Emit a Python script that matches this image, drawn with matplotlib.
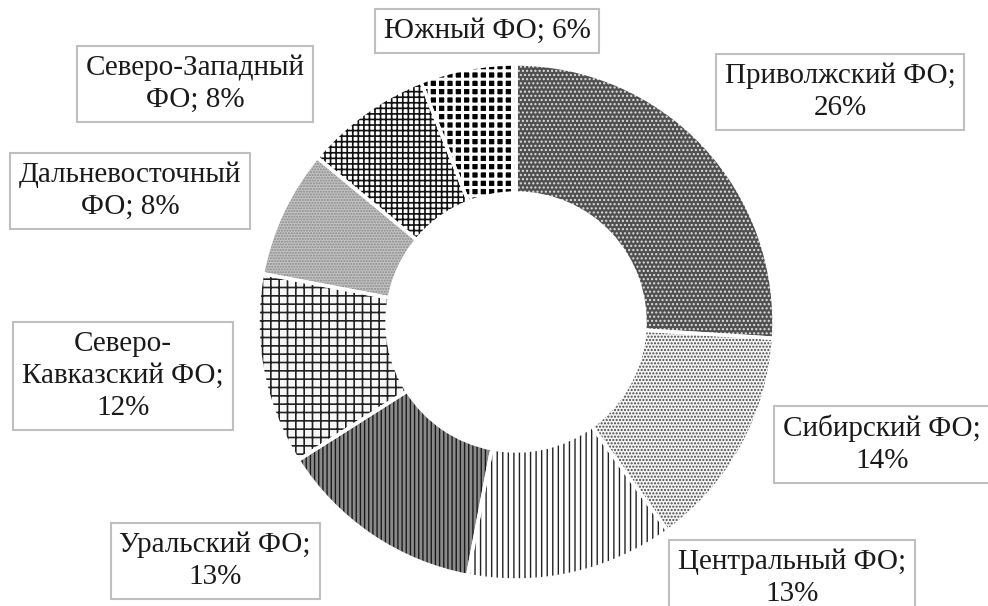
import matplotlib.pyplot as plt
import matplotlib as mpl

plt.rcParams['font.family'] = ['Liberation Serif', 'DejaVu Serif']
mpl.rcParams['hatch.linewidth'] = 1.0

regions = ['Приволжский ФО', 'Сибирский ФО', 'Центральный ФО', 'Уральский ФО',
           'Северо-Кавказский ФО', 'Дальневосточный ФО', 'Северо-Западный ФО', 'Южный ФО']
shares = [26, 14, 13, 13, 12, 8, 8, 6]
label_text = ['Приволжский ФО;\n26%', 'Сибирский ФО;\n14%', 'Центральный ФО;\n13%',
              'Уральский ФО;\n13%', 'Северо-\nКавказский ФО;\n12%', 'Дальневосточный\nФО; 8%',
              'Северо-Западный\nФО; 8%', 'Южный ФО; 6%']
# label box centres in pixels (x, y from top)
label_pos = [(840, 92), (882, 444), (792, 578), (215, 561),
             (123, 376), (130, 191), (195, 84), (487, 31)]

faces = ['#505050', '#f4f4f4', 'white', '#8a8a8a', '#f7f7f7', '#c4c4c4', 'white', 'black']
hcols = ['#e0e0e0', '#444444', '#222222', '#1a1a1a', '#222222', '#888888', '#111111', 'white']
hatches = ['....', '.....', '|||', '||||', '++', '......', '+++', '++']
hlw = [1.0, 1.0, 1.0, 1.0, 1.2, 1.0, 1.2, 2.2]

fig = plt.figure(figsize=(9.88, 6.06), dpi=100)
ax = fig.add_axes([0, 0, 1, 1])

cx, cy, R = 516, 606 - 322, 258
wedges, _ = ax.pie(shares, startangle=90, counterclock=False, center=(cx, cy), radius=R,
                   wedgeprops=dict(width=R * 0.5, linewidth=0), frame=True)
for w, fc, hc, h, lw in zip(wedges, faces, hcols, hatches, hlw):
    w.set_facecolor(fc)
    w.set_edgecolor(hc)
    w.set_hatch(h)
    if hasattr(w, 'set_hatch_linewidth'):
        w.set_hatch_linewidth(lw)
# white separators
ax.pie(shares, startangle=90, counterclock=False, center=(cx, cy), radius=R, frame=True,
       wedgeprops=dict(width=R * 0.5, facecolor='none', edgecolor='white', linewidth=2.5))
ax.set_xlim(0, 988)
ax.set_ylim(0, 606)
ax.set_aspect('equal')
ax.axis('off')

for txt, (px, py) in zip(label_text, label_pos):
    ax.text(px, 606 - py, txt, ha='center', va='center', fontsize=21, color='#1a1a1a',
            linespacing=1.3,
            bbox=dict(boxstyle='square,pad=0.3', facecolor='white', edgecolor='#bfbfbf', linewidth=1.5))

fig.savefig('out.png', dpi=100)
